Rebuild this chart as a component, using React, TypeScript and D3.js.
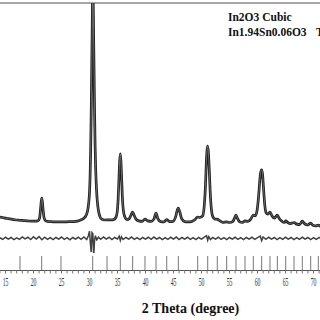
import React from "react";
import * as d3 from "d3";

const observed: [number, number][] = [
  [14.0, 57], [14.5, 55], [15.0, 52], [15.5, 50], [16.0, 48], [16.5, 46], [17.0, 44], [17.5, 43],
  [18.0, 42], [18.5, 41], [19.0, 40], [19.5, 39], [20.0, 39], [20.5, 39], [20.9, 42], [21.1, 55],
  [21.25, 90], [21.38, 125], [21.48, 141], [21.58, 125], [21.72, 88], [21.88, 55], [22.1, 42],
  [22.5, 38], [23.0, 37], [23.5, 36], [24.0, 36], [24.5, 36], [25.0, 36], [25.5, 36], [26.0, 36],
  [26.5, 37], [27.0, 37], [27.5, 38], [28.0, 40], [28.5, 45], [29.0, 52], [29.4, 65], [29.7, 90],
  [29.9, 130], [30.0, 165], [30.1, 230], [30.2, 340], [30.3, 510], [30.4, 710], [30.5, 930],
  [30.6, 1100], [30.7, 930], [30.8, 730], [30.9, 530], [31.0, 370], [31.1, 270], [31.25, 180],
  [31.4, 125], [31.6, 85], [31.85, 60], [32.2, 47], [32.8, 44], [33.3, 45], [33.8, 45], [34.3, 46],
  [34.7, 55], [34.95, 80], [35.1, 130], [35.25, 220], [35.38, 300], [35.5, 335], [35.62, 300],
  [35.75, 220], [35.9, 130], [36.05, 85], [36.3, 58], [36.7, 46], [37.1, 50], [37.45, 68],
  [37.7, 79], [37.95, 66], [38.3, 48], [38.8, 40], [39.4, 38], [39.9, 48], [40.4, 40], [41.0, 38],
  [41.5, 48], [41.88, 75], [42.2, 50], [42.7, 37], [43.3, 36], [43.8, 46], [44.3, 37], [44.9, 38],
  [45.4, 60], [45.7, 90], [45.86, 97], [46.1, 82], [46.45, 50], [47.0, 37], [47.6, 36], [48.2, 37],
  [48.8, 45], [49.3, 57], [49.7, 55], [50.2, 62], [50.5, 110], [50.7, 190], [50.85, 290],
  [50.98, 350], [51.1, 370], [51.22, 345], [51.38, 270], [51.55, 170], [51.75, 95], [52.0, 60],
  [52.4, 48], [52.85, 47], [53.3, 40], [53.8, 34], [54.5, 36], [55.0, 33], [55.6, 38], [55.95, 55],
  [56.16, 66], [56.4, 52], [56.8, 36], [57.3, 33], [57.77, 40], [58.3, 38], [58.8, 48], [59.25, 66],
  [59.6, 62], [59.95, 90], [60.2, 150], [60.4, 215], [60.58, 255], [60.75, 265], [60.9, 245],
  [61.1, 175], [61.3, 110], [61.55, 75], [61.85, 70], [62.23, 79], [62.6, 62], [63.0, 52],
  [63.3, 60], [63.54, 66], [63.85, 52], [64.3, 40], [64.8, 33], [65.04, 40], [65.4, 33], [65.9, 28],
  [66.52, 33], [67.0, 26], [67.5, 24], [68.0, 39], [68.4, 28], [68.9, 22], [69.5, 30], [69.9, 21],
  [70.4, 18], [70.86, 22], [71.2, 17], [71.6, 15],
];

// obs - calc difference, [2theta, counts]
const difference: [number, number][] = [
  [14.0, 3], [14.5, -4], [15.0, 5], [15.5, -3], [16.0, 4], [16.5, -5], [17.0, 2], [17.5, -4],
  [18.0, 6], [18.5, -2], [19.0, 5], [19.5, -5], [20.0, 7], [20.5, -3], [21.0, 8], [21.5, -6],
  [22.0, 5], [22.5, -4], [23.0, 3], [23.5, -5], [24.0, 4], [24.5, -3], [25.0, 6], [25.5, -4],
  [26.0, 3], [26.5, -6], [27.0, 4], [27.5, -3], [28.0, 5], [28.5, -4], [29.0, 6], [29.5, -5],
  [29.8, 12], [30.0, 32], [30.15, -20], [30.3, -60], [30.45, 25], [30.6, 20], [30.75, -75],
  [30.9, -10], [31.05, 12], [31.3, -6], [31.6, 5], [32.0, -4], [32.5, 6], [33.0, -3], [33.5, 5],
  [34.0, -5], [34.5, 4], [35.0, -3], [35.3, 10], [35.5, -9], [35.7, 7], [36.0, -5], [36.5, 4],
  [37.0, -3], [37.5, 6], [38.0, -4], [38.5, 3], [39.0, -5], [39.5, 4], [40.0, -3], [40.5, 5],
  [41.0, -4], [41.5, 6], [42.0, -3], [42.5, 4], [43.0, -5], [43.5, 3], [44.0, -4], [44.5, 5],
  [45.0, -3], [45.5, 6], [46.0, -5], [46.5, 4], [47.0, -3], [47.5, 5], [48.0, -4], [48.5, 3],
  [49.0, -5], [49.5, 4], [50.0, -3], [50.5, 6], [50.9, 12], [51.1, -8], [51.3, 8], [51.6, -5],
  [52.0, 4], [52.5, -3], [53.0, 5], [53.5, -4], [54.0, 3], [54.5, -5], [55.0, 4], [55.5, -3],
  [56.0, 5], [56.5, -4], [57.0, 3], [57.5, -5], [58.0, 4], [58.5, -3], [59.0, 5], [59.5, -4],
  [60.0, 3], [60.5, 10], [60.75, -10], [61.0, 6], [61.5, -4], [62.0, 5], [62.5, -3], [63.0, 4],
  [63.5, -5], [64.0, 3], [64.5, -4], [65.0, 5], [65.5, -3], [66.0, 4], [66.5, -5], [67.0, 3],
  [67.5, -4], [68.0, 5], [68.5, -3], [69.0, 4], [69.5, -5], [70.0, 3], [70.5, -4], [71.0, 4],
  [71.5, -3],
];

// Bragg reflection positions (2theta)
const braggPositions = [
  17.59, 21.46, 24.91, 30.57, 33.13, 35.5, 37.71, 39.91, 41.88, 43.79, 45.86, 49.32, 51.11,
  52.82, 54.5, 56.16, 57.77, 59.25, 60.75, 62.23, 63.54, 65.04, 66.52, 68.0, 69.5, 70.86,
];

const tickLabels = [15, 20, 25, 30, 35, 40, 45, 50, 55, 60, 65, 70];
const legendLines = ["In2O3 Cubic", "In1.94Sn0.06O3"];
const diffOffset = -37;

export default function App() {
  const x = d3.scaleLinear().domain([15, 70]).range([5.5, 313.5]);
  const y = d3.scaleLinear().domain([0, 1000]).range([230, 3]);

  const profile = d3
    .line<[number, number]>()
    .x((d) => x(d[0]))
    .y((d) => y(d[1]))
    .curve(d3.curveMonotoneX);

  const diffLine = d3
    .line<[number, number]>()
    .x((d) => x(d[0]))
    .y((d) => y(diffOffset + d[1]));

  const axisY = 270.5;
  const minorTicks = d3.range(14, 72, 1);

  return (
    <svg
      width={320}
      height={320}
      style={{ position: "absolute", left: 0, top: 0, background: "#fff" }}
    >
      <defs>
        <clipPath id="plot">
          <rect x={0} y={3} width={320} height={250} />
        </clipPath>
      </defs>
      <rect width={320} height={320} fill="#fff" />
      <line x1={0} x2={320} y1={3} y2={3} stroke="#8a8a8a" strokeWidth={1.6} />

      <g clipPath="url(#plot)" fill="none">
        <path d={profile(observed) ?? ""} stroke="#1a1a1a" strokeWidth={2.7} strokeLinejoin="round" />
        <path d={profile(observed) ?? ""} stroke="#8c8c8c" strokeWidth={0.7} />
        <path d={diffLine(difference) ?? ""} stroke="#404040" strokeWidth={1.5} />
      </g>

      {braggPositions.map((p) => (
        <line key={p} x1={x(p)} x2={x(p)} y1={256} y2={axisY} stroke="#777" strokeWidth={1} />
      ))}

      <line x1={0} x2={320} y1={axisY} y2={axisY} stroke="#555" strokeWidth={1} />
      {minorTicks.map((t) => (
        <line key={t} x1={x(t)} x2={x(t)} y1={axisY} y2={axisY + 3} stroke="#777" strokeWidth={1} />
      ))}
      {tickLabels.map((t) => (
        <text
          key={t}
          transform={`translate(${x(t)},286) scale(0.5,1)`}
          textAnchor="middle"
          fontFamily="Liberation Serif"
          fontSize={11.5}
          fill="#333"
        >
          {t}
        </text>
      ))}

      <text
        x={190.5}
        y={312.5}
        textAnchor="middle"
        fontFamily="Liberation Serif"
        fontWeight="bold"
        fontSize={14}
        fill="#111"
      >
        2 Theta (degree)
      </text>

      {legendLines.map((s, i) => (
        <text
          key={s}
          x={228}
          y={20.5 + i * 15}
          fontFamily="Liberation Serif"
          fontWeight="bold"
          fontSize={11.5}
          fill="#111"
        >
          {s}
        </text>
      ))}
      <text x={316} y={35.5} fontFamily="Liberation Serif" fontWeight="bold" fontSize={11.5} fill="#111">
        T
      </text>
    </svg>
  );
}
